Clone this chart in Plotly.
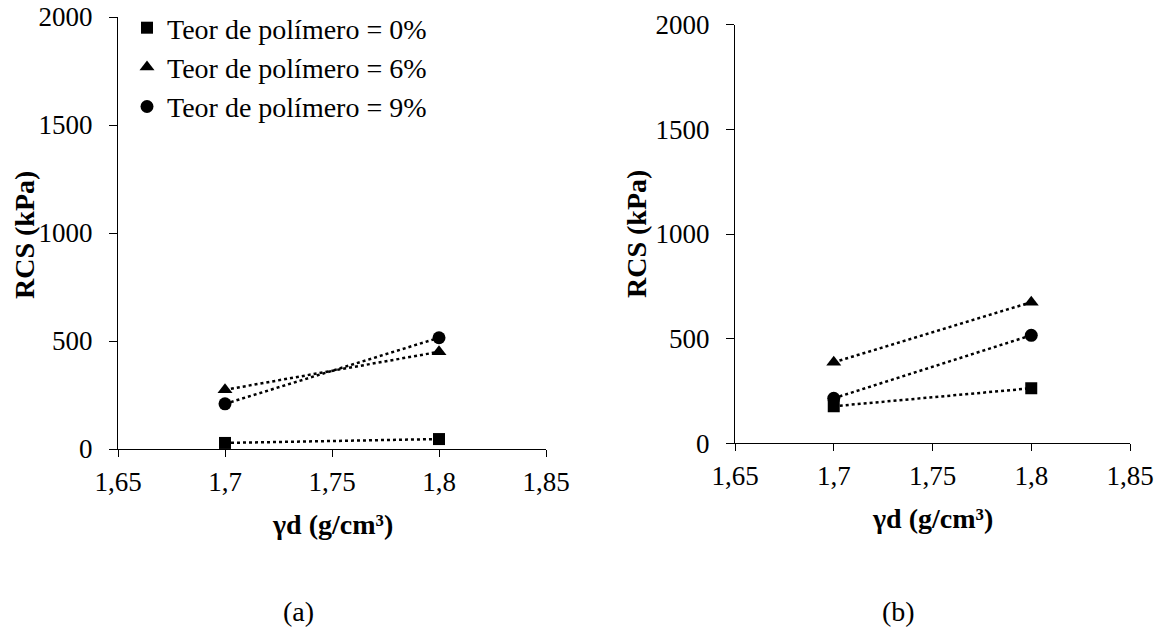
import plotly.graph_objects as go

# Data
gamma_d = [1.7, 1.8]
series_names = ["Teor de polímero = 0%", "Teor de polímero = 6%", "Teor de polímero = 9%"]
rcs_a_0 = [28, 46]
rcs_a_6 = [274, 450]
rcs_a_9 = [209, 515]
rcs_b_0 = [177, 263]
rcs_b_6 = [387, 674]
rcs_b_9 = [215, 516]
x_tickvals = [1.65, 1.7, 1.75, 1.8, 1.85]
x_ticktext = ["1,65", "1,7", "1,75", "1,8", "1,85"]
y_tickvals = [0, 500, 1000, 1500, 2000]
y_ticktext = ["0", "500", "1000", "1500", "2000"]
panel_labels = ["(a)", "(b)"]
x_title = "γd (g/cm³)"
y_title = "RCS (kPa)"

FONT = "Liberation Serif, Times New Roman, serif"
W, H = 1159, 628
symbols = ["square", "triangle-up", "circle"]
sizes = [12, 13, 13]

fig = go.Figure()

panels = [
    ("x", "y", [rcs_a_0, rcs_a_6, rcs_a_9], True),
    ("x2", "y2", [rcs_b_0, rcs_b_6, rcs_b_9], False),
]
for xa, ya, data, legend in panels:
    for vals in data:
        fig.add_trace(go.Scatter(
            x=gamma_d, y=vals, xaxis=xa, yaxis=ya, mode="lines",
            line=dict(color="black", width=2.5, dash="dot"),
            showlegend=False, hoverinfo="skip"))
    for i, vals in enumerate(data):
        fig.add_trace(go.Scatter(
            x=gamma_d, y=vals, xaxis=xa, yaxis=ya, mode="markers",
            name=series_names[i],
            marker=dict(symbol=symbols[i], size=sizes[i], color="black"),
            showlegend=legend))

common = dict(
    showline=True, linecolor="black", linewidth=1.3, mirror=False,
    showgrid=False, zeroline=False, ticks="outside",
    tickcolor="black", tickwidth=1.3, automargin=False,
    tickfont=dict(family=FONT, size=27, color="black"),
)
xcommon = dict(common, ticklen=7, ticklabelstandoff=1, range=[1.65, 1.85],
               tickvals=x_tickvals, ticktext=x_ticktext)
ycommon = dict(common, ticklen=8, ticklabelstandoff=11, range=[0, 2000],
               tickvals=y_tickvals, ticktext=y_ticktext)

fig.update_layout(
    width=W, height=H,
    margin=dict(l=0, r=0, t=0, b=0),
    paper_bgcolor="white", plot_bgcolor="white",
    font=dict(family=FONT, color="black"),
    xaxis=dict(domain=[118/W, 546/W], anchor="y", **xcommon),
    yaxis=dict(domain=[1-449/H, 1-17/H], anchor="x", **ycommon),
    xaxis2=dict(domain=[735/W, 1130/W], anchor="y2", **xcommon),
    yaxis2=dict(domain=[1-443.3/H, 1-24.7/H], anchor="x2", **ycommon),
    legend=dict(x=127/W, y=1-3/H, xanchor="left", yanchor="top",
                bgcolor="rgba(0,0,0,0)",
                font=dict(family=FONT, size=28, color="black"),
                itemwidth=30, tracegroupgap=0),
    showlegend=True,
)

annots = [
    (f"<b>{y_title}</b>", 25, 235, -90),
    (f"<b>{y_title}</b>", 636, 234, -90),
    (f"<b>{x_title}</b>", 332, 524, 0),
    (f"<b>{x_title}</b>", 932, 518, 0),
    (panel_labels[0], 298, 611, 0),
    (panel_labels[1], 898, 611, 0),
]
for text, px, py, ang in annots:
    fig.add_annotation(text=text, x=px/W, y=1-py/H, xref="paper", yref="paper",
                       showarrow=False, textangle=ang,
                       xanchor="center", yanchor="middle",
                       font=dict(family=FONT, size=28, color="black"))

fig.write_html("out.html")
